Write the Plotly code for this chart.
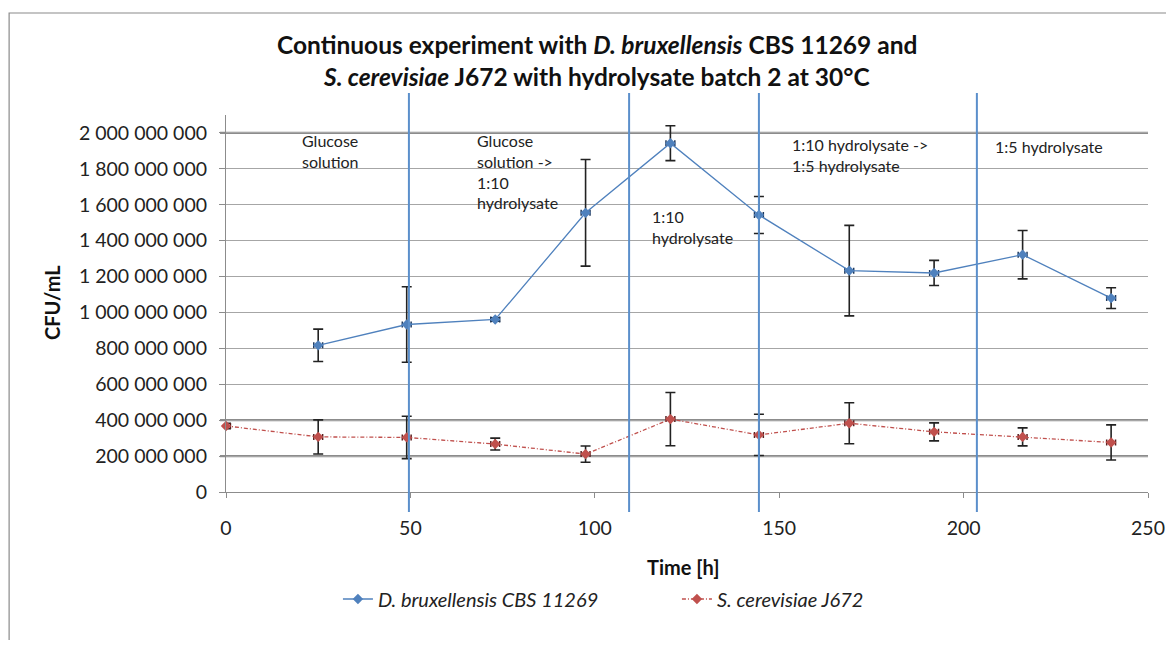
import plotly.graph_objects as go

# sampling times [h]
time_h = [0, 25, 49, 73, 97.5, 120.5, 144.5, 169, 192, 216, 240]

# D. bruxellensis CBS 11269 (no sample at t=0)
dbrux_cfu = [None, 817e6, 933e6, 961e6, 1555e6, 1943e6, 1543e6, 1233e6, 1220e6, 1322e6, 1080e6]
dbrux_err = [None, 90e6, 210e6, 10e6, 297e6, 97e6, 103e6, 252e6, 70e6, 135e6, 58e6]

# S. cerevisiae J672
scer_cfu = [368e6, 307e6, 304e6, 267e6, 211e6, 406e6, 318e6, 383e6, 335e6, 307e6, 276e6]
scer_err = [15e6, 95e6, 118e6, 33e6, 45e6, 148e6, 115e6, 114e6, 50e6, 50e6, 98e6]

# medium switches [h] and phase labels
phase_switch_h = [49.6, 109.3, 144.5, 203.6]
phase_labels = [
    "Glucose<br>solution",
    "Glucose<br>solution -><br>1:10<br>hydrolysate",
    "1:10<br>hydrolysate",
    "1:10 hydrolysate -><br>1:5 hydrolysate",
    "1:5 hydrolysate",
]

FONT = "Lato, 'Open Sans', sans-serif"
BLUE = "#4F81BD"
RED = "#C0504D"

# plot area in page pixels (the page body adds an 8px margin)
PL, PR, PT, PB = 226, 1148.5, 115, 492
PW, PH = PR - PL, PB - PT


def px(xp):
    return (xp - PL) / PW


def py(yp):
    return (PB - yp) / PH


fig = go.Figure()

fig.add_trace(go.Scatter(
    x=time_h, y=dbrux_cfu, name="<i>D. bruxellensis CBS 11269</i>",
    mode="lines+markers", connectgaps=False,
    line=dict(color=BLUE, width=1.3),
    marker=dict(symbol="diamond", size=8, color=BLUE),
    error_y=dict(type="data", array=dbrux_err, color="#222", thickness=1.6, width=5),
    error_x=dict(type="constant", value=1.2, color="#1F3A5F", thickness=1.5, width=3),
    cliponaxis=False,
))

fig.add_trace(go.Scatter(
    x=time_h, y=scer_cfu, name="<i>S. cerevisiae J672</i>",
    mode="lines+markers",
    line=dict(color=RED, width=1.3, dash="4px,2px,1px,2px"),
    marker=dict(symbol="diamond", size=8, color=RED),
    error_y=dict(type="data", array=scer_err, color="#222", thickness=1.6, width=5),
    error_x=dict(type="constant", value=1.2, color="#5A2020", thickness=1.5, width=3),
    cliponaxis=False,
))

shapes = []
# darker gridlines seen in the original
for yv in [2e9, 4e8, 2e8]:
    shapes.append(dict(type="line", xref="paper", yref="y", x0=px(220), x1=1, y0=yv, y1=yv,
                       line=dict(color="#8C8C8C", width=2.2), layer="below"))
# phase boundaries
for xv in phase_switch_h:
    shapes.append(dict(type="line", xref="x", yref="paper", x0=xv, x1=xv, y0=py(512), y1=py(93),
                       line=dict(color="#5B8FCB", width=2), layer="above"))
# outer chart border
shapes.append(dict(type="rect", xref="paper", yref="paper", x0=px(9), x1=px(1190), y0=py(670), y1=py(13),
                   line=dict(color="#8A8A8A", width=1.2), fillcolor="rgba(0,0,0,0)"))

label_pos = [(20.0, 2.02e9), (67.4, 2.02e9), (115.0, 1.6e9), (153.0, 2.0e9), (208.0, 1.99e9)]
annotations = []
for (xv, yv), txt in zip(label_pos, phase_labels):
    annotations.append(dict(x=xv, y=yv, xref="x", yref="y", text=txt, showarrow=False,
                            xanchor="left", yanchor="top", align="left",
                            font=dict(family=FONT, size=16, color="#222")))

annotations += [
    dict(x=px(597), y=py(45), xref="paper", yref="paper", showarrow=False,
         text="<b>Continuous experiment with <i>D. bruxellensis</i> CBS 11269 and</b>",
         font=dict(family=FONT, size=24.5, color="#111"), xanchor="center", yanchor="middle"),
    dict(x=px(597), y=py(76), xref="paper", yref="paper", showarrow=False,
         text="<b><i>S. cerevisiae</i> J672 with hydrolysate batch 2 at 30°C</b>",
         font=dict(family=FONT, size=24.5, color="#111"), xanchor="center", yanchor="middle"),
    dict(x=px(52), y=py(303), xref="paper", yref="paper", showarrow=False, textangle=-90,
         xanchor="center", yanchor="middle",
         text="<b>CFU/mL</b>", font=dict(family=FONT, size=20, color="#111")),
    dict(x=px(684), y=py(567), xref="paper", yref="paper", showarrow=False,
         xanchor="center", yanchor="middle",
         text="<b>Time [h]</b>", font=dict(family=FONT, size=20, color="#111")),
]

fig.update_layout(
    width=1158, height=632,
    margin=dict(l=PL - 8, r=1174 - PR - 8, t=PT - 8, b=648 - PB - 8, autoexpand=False),
    paper_bgcolor="white", plot_bgcolor="white",
    font=dict(family=FONT, size=19.5, color="#222"),
    shapes=shapes, annotations=annotations,
    showlegend=True,
    legend=dict(orientation="h", x=px(338), y=py(599),
                xanchor="left", yanchor="middle", entrywidth=294,
                font=dict(family=FONT, size=20, color="#222"), bgcolor="rgba(0,0,0,0)"),
)

fig.update_xaxes(
    range=[0, 250], tickvals=[0, 50, 100, 150, 200, 250],
    showgrid=False, showline=True, linecolor="#8C8C8C", linewidth=1.2,
    ticks="outside", ticklen=5, tickcolor="#8C8C8C", ticklabelstandoff=13,
    zeroline=False, automargin=False,
)
fig.update_yaxes(
    range=[0, 2.1e9], tickvals=[i * 2e8 for i in range(11)],
    ticktext=[f"{i * 200000000:,}".replace(",", " ") for i in range(11)],
    showgrid=True, gridcolor="#A6A6A6", gridwidth=1,
    showline=True, linecolor="#8C8C8C", linewidth=1.2,
    ticks="outside", ticklen=6, tickcolor="#8C8C8C", ticklabelstandoff=8,
    zeroline=False, automargin=False,
)

fig.write_html("out.html")
